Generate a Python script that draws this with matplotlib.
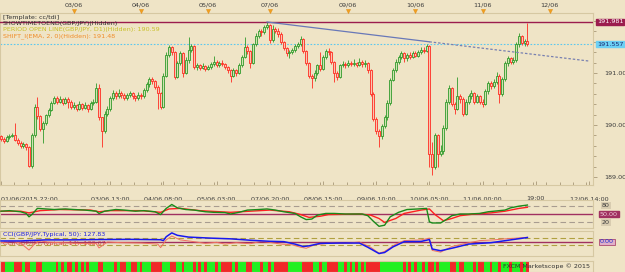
import matplotlib
matplotlib.use('Agg')
import matplotlib.pyplot as plt
from matplotlib.patches import Rectangle
from matplotlib.ticker import MultipleLocator, FixedLocator
import matplotlib.transforms as mtransforms

# ---------------- data ----------------
first_open = 189.78
closes = [
 189.74,189.70,189.76,189.79,189.80,189.72,189.66,189.60,189.63,189.58,
 189.22,189.81,190.35,190.18,189.92,190.04,190.19,190.29,190.42,190.52,
 190.45,190.50,190.42,190.50,190.45,190.35,190.38,190.30,190.40,190.33,
 190.38,190.30,190.42,190.45,190.72,190.15,189.88,190.22,190.30,190.52,
 190.62,190.55,190.62,190.58,190.52,190.57,190.62,190.55,190.52,190.58,
 190.55,190.68,190.78,190.88,190.84,190.74,190.62,190.35,190.95,191.35,
 191.50,191.40,190.92,191.20,191.38,191.00,191.25,191.45,191.52,191.12,
 191.15,191.10,191.14,191.08,191.12,191.18,191.22,191.15,191.20,191.18,
 191.12,191.05,190.95,191.05,191.00,191.15,191.30,191.50,191.42,191.20,
 191.55,191.72,191.80,191.78,191.88,191.92,191.63,191.85,191.80,191.75,
 191.60,191.48,191.38,191.40,191.44,191.52,191.56,191.66,191.42,191.20,
 190.95,190.90,191.00,191.15,191.08,191.30,191.42,191.40,191.22,191.00,
 190.92,191.15,191.18,191.15,191.20,191.17,191.20,191.16,191.22,191.18,
 191.20,191.05,190.60,190.12,189.88,189.78,189.98,190.15,190.42,190.87,
 191.05,191.22,191.30,191.38,191.28,191.35,191.30,191.38,191.33,191.40,
 191.45,191.42,191.52,189.45,189.20,189.80,189.45,189.50,189.95,190.45,
 190.72,190.40,190.30,190.55,190.50,190.22,190.45,190.55,190.62,190.45,
 190.55,190.45,190.40,190.65,190.80,190.75,190.82,190.95,190.60,190.88,
 191.20,191.28,191.22,191.25,191.55,191.72,191.58,191.62,191.557]
highs = [
 189.80,189.77,189.80,189.83,189.85,190.04,189.75,189.70,189.67,189.66,
 189.60,189.84,190.40,190.54,190.20,190.08,190.22,190.33,190.46,190.56,
 190.55,190.56,190.52,190.54,190.53,190.48,190.44,190.40,190.46,190.42,
 190.44,190.40,190.46,190.50,190.80,190.78,190.16,190.26,190.36,190.56,
 190.68,190.66,190.70,190.66,190.62,190.62,190.66,190.64,190.58,190.63,
 190.62,190.72,190.82,190.92,190.92,190.86,190.76,190.64,191.00,191.40,
 191.54,191.52,191.42,191.24,191.42,191.40,191.30,191.69,191.56,191.54,
 191.20,191.18,191.19,191.16,191.16,191.22,191.33,191.25,191.24,191.25,
 191.20,191.14,191.08,191.10,191.08,191.20,191.34,191.70,191.54,191.44,
 191.58,191.76,191.84,191.85,191.92,191.98,191.94,191.92,191.88,191.86,
 191.78,191.62,191.50,191.45,191.48,191.56,191.60,191.72,191.68,191.45,
 191.22,190.98,191.05,191.18,191.40,191.34,191.46,191.48,191.42,191.24,
 191.04,191.18,191.24,191.22,191.25,191.24,191.26,191.22,191.28,191.25,
 191.25,191.22,191.08,190.64,190.15,189.92,190.02,190.20,190.48,190.90,
 191.10,191.26,191.34,191.42,191.40,191.38,191.40,191.42,191.42,191.44,
 191.50,191.50,191.56,191.54,189.68,189.84,189.82,189.62,190.00,190.50,
 190.76,190.74,190.45,190.92,190.60,190.54,190.50,190.60,190.68,190.64,
 190.60,190.58,190.50,190.70,190.84,190.85,190.88,191.02,190.98,190.92,
 191.24,191.32,191.30,191.30,191.60,191.77,191.74,191.66,191.96]
lows = [
 189.70,189.66,189.68,189.73,189.76,189.70,189.62,189.56,189.55,189.52,
 189.19,189.18,189.77,190.12,189.88,189.66,190.00,190.15,190.27,190.40,
 190.40,190.43,190.38,190.40,190.32,190.30,190.30,190.26,190.28,190.28,
 190.30,190.25,190.28,190.38,190.42,190.10,189.58,189.85,190.18,190.26,
 190.48,190.50,190.52,190.52,190.48,190.48,190.54,190.50,190.46,190.48,
 190.50,190.52,190.64,190.74,190.78,190.70,190.30,190.30,190.32,190.92,
 191.30,191.35,190.88,190.90,191.16,190.93,190.98,191.20,191.40,191.08,
 191.06,191.05,191.07,191.04,191.05,191.08,191.14,191.12,191.12,191.14,
 191.08,191.00,190.82,190.92,190.95,190.98,191.12,191.28,191.36,191.10,
 191.18,191.52,191.68,191.72,191.75,191.84,191.58,191.60,191.76,191.70,
 191.56,191.44,191.32,191.28,191.36,191.40,191.48,191.52,191.38,191.15,
 190.90,190.72,190.85,190.96,191.04,191.05,191.26,191.34,191.18,190.82,
 190.86,190.90,191.12,191.10,191.12,191.13,191.14,191.12,191.14,191.12,
 191.12,191.00,190.55,190.08,189.82,189.58,189.74,189.94,190.10,190.38,
 190.84,191.02,191.18,191.26,191.22,191.24,191.26,191.28,191.30,191.30,
 191.36,191.38,191.40,189.20,189.04,189.15,189.19,189.40,189.45,189.90,
 190.40,190.36,190.22,190.28,190.42,190.18,190.20,190.40,190.50,190.40,
 190.42,190.40,190.34,190.38,190.60,190.70,190.72,190.78,190.42,190.55,
 190.84,191.14,191.18,191.18,191.22,191.50,191.54,191.52,191.52]

high_line = 191.981
bid_line = 191.557
trend_idx = [95, 153, 210]
trend_val = [191.981, 191.60, 191.23]

bottom_idx = [0, 39, 58, 77, 96, 115, 134, 153, 172, 191, 210]
bottom_lbl = ['01/06/2015 22:00', '03/06 13:00', '04/06 08:00', '05/06 03:00',
              '07/06 20:00', '08/06 15:00', '09/06 10:00', '10/06 05:00',
              '11/06 00:00', '19:00', '12/06 14:00']
top_idx = [26, 50, 74, 96, 124, 148, 172, 196]
top_lbl = ['03/06', '04/06', '05/06', '07/06', '09/06', '10/06', '11/06', '12/06']
price_ticks = [189.0, 190.0, 191.0]

rsi_fast_idx = [0,3,7,9,10,11,13,16,19,23,26,30,34,35,37,41,44,48,51,55,57,59,61,63,66,
                69,73,76,80,82,85,88,92,95,98,101,105,107,109,111,113,116,119,123,126,
                129,131,133,135,137,139,142,145,149,152,153,154,157,159,161,164,167,171,
                174,176,180,182,185,188]
rsi_fast = [60,62,58,52,40,48,70,68,66,68,66,64,60,52,60,66,64,60,62,58,48,70,84,72,66,
            64,58,56,55,50,56,64,66,68,64,58,52,40,30,32,46,52,52,50,50,
            50,44,24,6,10,40,56,66,68,70,22,18,18,30,44,50,50,52,
            58,60,64,72,78,82]
rsi_slow_idx = [0,7,10,14,21,32,35,39,50,57,60,64,71,82,89,96,103,107,110,114,117,128,
                132,135,137,141,144,150,153,155,158,161,164,169,175,180,185,188]
rsi_slow = [60,60,54,62,66,64,58,62,62,56,68,70,62,56,60,64,58,48,38,42,48,50,
            46,34,20,34,52,64,68,48,26,34,44,50,54,60,70,74]

cci50_idx = [0,7,10,16,25,35,46,57,58,59,61,63,67,75,82,89,96,101,105,108,110,114,121,
             128,131,135,137,140,144,150,153,154,157,162,167,175,182,188]
cci50 = [30,30,40,60,60,70,75,65,40,150,260,190,140,110,90,50,20,10,-60,-130,-110,-40,-30,
         -30,-150,-330,-300,-140,10,15,70,-200,-250,-160,-60,-20,60,128]
cci14_idx = [0,4,7,10,12,14,16,21,28,34,35,38,43,50,56,57,59,61,64,68,73,77,80,84,89,93,
             96,100,104,107,109,112,118,123,128,132,135,137,141,144,150,153,154,157,161,
             166,171,176,180,184,188]
cci14 = [-20,20,-30,-230,-60,40,0,-20,-40,-40,-170,0,-20,-30,-60,-160,60,170,60,20,-40,-10,
         -60,-20,-50,20,-10,-60,-80,-150,-180,-80,-30,-40,0,-150,-320,-270,-60,40,60,110,
         -240,-290,-130,-40,40,60,90,110,134]

# ---------------- style ----------------
W, H = 625, 272
BG = '#efe4c6'
BORDER = '#d6c8a2'
GREEN = '#2f9a2a'
RED = '#ff2a20'
GFACE = '#cfe3b0'
RFACE = '#f9c6b0'
TXT = '#3c3c3c'
FS = 4.6

plt.rcParams['font.family'] = ['DejaVu Sans']

fig = plt.figure(figsize=(6.25, 2.72), dpi=100)
fig.patch.set_facecolor(BG)


def rect(x0, y0, x1, y1):
    return [x0 / W, 1 - y1 / H, (x1 - x0) / W, (y1 - y0) / H]


XL = (-0.357, 211.43)


def style_panel(a):
    a.set_facecolor(BG)
    for s in a.spines.values():
        s.set_color(BORDER)
        s.set_linewidth(0.8)
    a.set_xlim(*XL)


# ---------------- main price panel ----------------
ax = fig.add_axes(rect(0, 13, 593, 185))
style_panel(ax)
ax.set_ylim(188.846, 192.154)

n = len(closes)
opens = [first_open] + closes[:-1]
for i in range(n):
    o, c = opens[i], closes[i]
    up = c >= o
    col = GREEN if up else RED
    fc = GFACE if up else RFACE
    ax.vlines(i, lows[i], highs[i], color=col, lw=0.6, zorder=3)
    lo = min(o, c)
    hgt = max(abs(c - o), 0.012)
    ax.add_patch(Rectangle((i - 0.36, lo), 0.72, hgt, fc=fc, ec=col, lw=0.6, zorder=4))

ax.axhline(high_line, color='#9b1c4e', lw=1.0, zorder=5)
ax.axhline(bid_line, color='#5cc8ee', lw=0.8, ls=(0, (1.5, 1.5)), zorder=2)
ax.plot(trend_idx[:2], trend_val[:2], color='#6878b8', lw=0.9, zorder=5)
ax.plot(trend_idx[1:], trend_val[1:], color='#7880b0', lw=0.9, ls=(0, (2, 1.5)), zorder=5)

# right price axis
ax.yaxis.tick_right()
ax.set_yticks(price_ticks)
ax.set_yticklabels(['%.2f' % v for v in price_ticks])
ax.yaxis.set_minor_locator(MultipleLocator(0.2))
ax.tick_params(axis='y', which='both', direction='out', colors='#a89878', labelcolor=TXT,
               labelsize=FS, length=3, pad=5, width=0.6)
ax.tick_params(axis='y', which='minor', length=2)

# bottom time axis
ax.set_xticks(bottom_idx)
ax.set_xticklabels(bottom_lbl)
ax.xaxis.set_minor_locator(MultipleLocator(4.75))
ax.tick_params(axis='x', which='both', direction='in', colors='#a89878', labelcolor=TXT,
               labelsize=FS, length=3, pad=8, width=0.6)
ax.tick_params(axis='x', which='minor', length=2)
xl = ax.get_xticklabels()
xl[0].set_ha('left')

# top date labels and markers
trans = mtransforms.blended_transform_factory(ax.transData, ax.transAxes)
for xi, lb in zip(top_idx, top_lbl):
    ax.text(xi, (185 - 5) / 172, lb, transform=trans, ha='center', va='center',
            fontsize=FS, color=TXT, clip_on=False)
    ax.plot([xi], [(185 - 10.5) / 172], marker='v', ms=3, color='#f0a020', mec='#e08810',
            mew=0.3, transform=trans, clip_on=False, zorder=6)

# value boxes on right axis
ax.text(1.0 + 4 / 593, high_line, '191.981', transform=trans if False else
        mtransforms.blended_transform_factory(ax.transAxes, ax.transData),
        fontsize=FS, color='#ffffff', va='center', ha='left', clip_on=False, zorder=7,
        bbox=dict(boxstyle='square,pad=0.15', fc='#9b1c4e', ec='#9b1c4e'))
ax.text(1.0 + 4 / 593, bid_line, '191.557',
        transform=mtransforms.blended_transform_factory(ax.transAxes, ax.transData),
        fontsize=FS, color='#1a2a70', va='center', ha='left', clip_on=False, zorder=7,
        bbox=dict(boxstyle='square,pad=0.15', fc='#6cd0f4', ec='#6cd0f4'))

# legend texts
def ptxt(ypx, s, col):
    ax.text(3 / 593, (185 - ypx) / 172, s, transform=ax.transAxes, fontsize=FS,
            color=col, va='center', ha='left', zorder=8)

ptxt(17, '[Template: cc/tdi]', '#303030')
ptxt(23.5, 'SHOWTIMETOEND(GBP/JPY)(Hidden)', '#303030')
ptxt(30, 'PERIOD OPEN LINE(GBP/JPY, D1)(Hidden): 190.59', '#c8c028')
ptxt(36.5, 'SHIFT_I(EMA, 2, 0)(Hidden): 191.48', '#f08c28')

# ---------------- RSI / TDI panel ----------------
ra = fig.add_axes(rect(0, 200, 593, 228))
style_panel(ra)
ra.set_ylim(0, 100)
ra.set_xticks([])
ra.set_yticks([])
ra.axhline(80, color='#a89c90', lw=0.8, ls=(0, (5, 3)))
ra.axhline(20, color='#a89c90', lw=0.8, ls=(0, (5, 3)))
ra.axhline(50, color='#a03060', lw=1.0)
ra.plot(rsi_slow_idx, rsi_slow, color='#ff2020', lw=1.0, zorder=3)
ra.plot(rsi_fast_idx, rsi_fast, color='#1a8a1a', lw=1.0, zorder=4)
rt = mtransforms.blended_transform_factory(ra.transAxes, ra.transData)
ra.text(1 + 9 / 593, 80, '80', transform=rt, fontsize=FS, color=TXT, va='center',
        clip_on=False, bbox=dict(boxstyle='square,pad=0.1', fc='#d8ccb0', ec='none'))
ra.text(1 + 7 / 593, 50, '50.00', transform=rt, fontsize=FS, color='#f0c8d8', va='center',
        clip_on=False, bbox=dict(boxstyle='square,pad=0.15', fc='#a03060', ec='#a03060'))
ra.text(1 + 9 / 593, 20, '20', transform=rt, fontsize=FS, color=TXT, va='center',
        clip_on=False, bbox=dict(boxstyle='square,pad=0.1', fc='#d8ccb0', ec='none'))

# ---------------- CCI panel ----------------
ca = fig.add_axes(rect(0, 231, 593, 256))
style_panel(ca)
ca.set_ylim(-400, 314)
ca.set_xticks([])
ca.set_yticks([])
ca.axhline(100, color='#b0a040', lw=0.8, ls=(0, (5, 3)))
ca.axhline(-100, color='#b0a040', lw=0.8, ls=(0, (5, 3)))
ca.axhline(0, color='#a03060', lw=1.0)
ca.text(3 / 593, -30, 'CCI(GBP/JPY,Typical, 14): 133.67', transform=mtransforms.blended_transform_factory(ca.transAxes, ca.transData),
        fontsize=FS, color='#e04040', va='center', zorder=1)
ca.plot(cci14_idx, cci14, color='#f07060', lw=0.7, zorder=3)
ca.plot(cci50_idx, cci50, color='#1818f0', lw=1.1, zorder=4)
ca.text(3 / 593, 220, 'CCI(GBP/JPY,Typical, 50): 127.83', transform=mtransforms.blended_transform_factory(ca.transAxes, ca.transData),
        fontsize=FS, color='#2020e0', va='center', zorder=5)
ct = mtransforms.blended_transform_factory(ca.transAxes, ca.transData)
ca.text(1 + 7 / 593, 0, '0.00', transform=ct, fontsize=FS, color='#2030d0', va='center',
        clip_on=False, bbox=dict(boxstyle='square,pad=0.15', fc='#e0b0c8', ec='#a03060', lw=0.5))

# ---------------- bottom colour strip ----------------
ba = fig.add_axes(rect(0, 261, 593, 272))
style_panel(ba)
ba.set_ylim(0, 1)
ba.set_xticks([])
ba.set_yticks([])
bar_cols = ['#22f022' if closes[i] >= opens[i] else '#f02828' for i in range(n)]
ba.bar(range(n), [1] * n, width=1.0, bottom=0, color=bar_cols, linewidth=0)
ba.text(0.995, 0.5, 'FXCM Marketscope \u00a9 2015', transform=ba.transAxes, fontsize=FS,
        color='#303030', ha='right', va='center', zorder=5)

fig.savefig('out.png', dpi=100, facecolor=BG)
